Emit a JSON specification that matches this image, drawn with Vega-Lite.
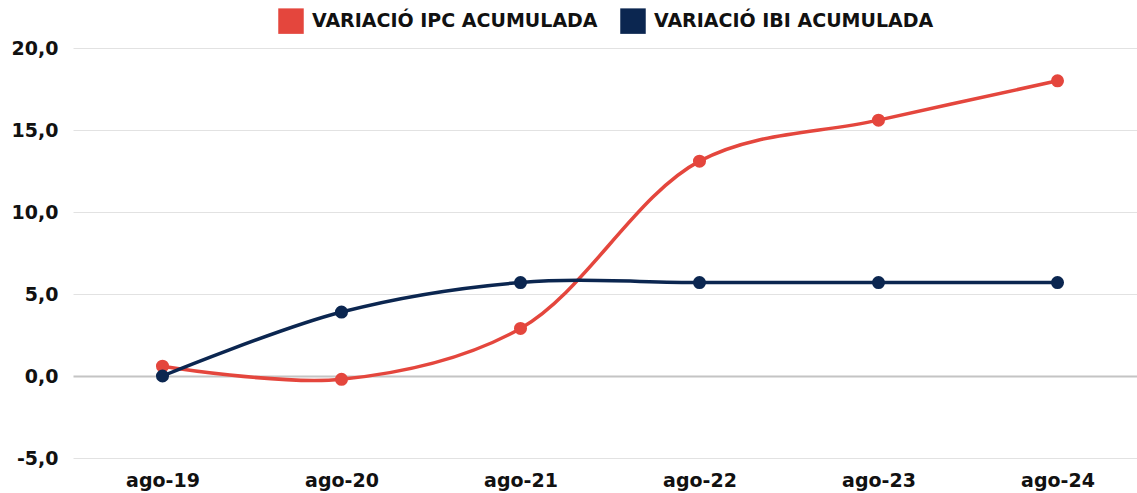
{
  "$schema": "https://vega.github.io/schema/vega-lite/v6.json",
  "width": 1074,
  "height": 410,
  "padding": {"left": 11, "top": 8, "right": 0, "bottom": 5},
  "background": "white",
  "config": {
    "view": {"stroke": null},
    "font": "DejaVu Sans"
  },
  "data": {
    "values": [
      {"fecha": "ago-19", "serie": "VARIACIÓ IPC ACUMULADA", "valor": 0.6},
      {"fecha": "ago-20", "serie": "VARIACIÓ IPC ACUMULADA", "valor": -0.2},
      {"fecha": "ago-21", "serie": "VARIACIÓ IPC ACUMULADA", "valor": 2.9},
      {"fecha": "ago-22", "serie": "VARIACIÓ IPC ACUMULADA", "valor": 13.1},
      {"fecha": "ago-23", "serie": "VARIACIÓ IPC ACUMULADA", "valor": 15.6},
      {"fecha": "ago-24", "serie": "VARIACIÓ IPC ACUMULADA", "valor": 18.0},
      {"fecha": "ago-19", "serie": "VARIACIÓ IBI ACUMULADA", "valor": 0.0},
      {"fecha": "ago-20", "serie": "VARIACIÓ IBI ACUMULADA", "valor": 3.9},
      {"fecha": "ago-21", "serie": "VARIACIÓ IBI ACUMULADA", "valor": 5.7},
      {"fecha": "ago-22", "serie": "VARIACIÓ IBI ACUMULADA", "valor": 5.7},
      {"fecha": "ago-23", "serie": "VARIACIÓ IBI ACUMULADA", "valor": 5.7},
      {"fecha": "ago-24", "serie": "VARIACIÓ IBI ACUMULADA", "valor": 5.7}
    ]
  },
  "encoding": {
    "x": {
      "field": "fecha",
      "type": "ordinal",
      "sort": null,
      "scale": {"type": "point", "padding": 0.5},
      "axis": {
        "title": null,
        "labelAngle": 0,
        "domain": false,
        "ticks": false,
        "labelFont": "DejaVu Sans",
        "labelFontWeight": "bold",
        "labelFontSize": 19,
        "labelColor": "#111111",
        "labelPadding": 13
      }
    },
    "y": {
      "field": "valor",
      "type": "quantitative",
      "scale": {"domain": [-5, 20], "nice": false, "zero": false},
      "axis": {
        "title": null,
        "values": [-5, 0, 5, 10, 15, 20],
        "labelExpr": "replace(replace(format(datum.value, '.1f'), '.', ','), '\u2212', '-')",
        "domain": false,
        "ticks": false,
        "labelFont": "DejaVu Sans",
        "labelFontWeight": "bold",
        "labelFontSize": 19,
        "labelColor": "#111111",
        "labelPadding": 15,
        "gridColor": {"condition": {"test": "datum.value === 0", "value": "#c4c4c4"}, "value": "#e2e2e2"},
        "gridWidth": {"condition": {"test": "datum.value === 0", "value": 2}, "value": 1}
      }
    },
    "color": {
      "field": "serie",
      "type": "nominal",
      "scale": {
        "domain": ["VARIACIÓ IPC ACUMULADA", "VARIACIÓ IBI ACUMULADA"],
        "range": ["#E4463D", "#0B2650"]
      },
      "legend": {
        "title": null,
        "orient": "none",
        "direction": "horizontal",
        "legendX": 205,
        "legendY": -40,
        "symbolType": "square",
        "symbolSize": 650,
        "symbolStrokeWidth": 0,
        "symbolOpacity": 1,
        "labelFont": "DejaVu Sans",
        "labelFontWeight": "bold",
        "labelFontSize": 19,
        "labelColor": "#111111",
        "labelOffset": 8,
        "columnPadding": 22,
        "labelLimit": 400
      }
    }
  },
  "layer": [
    {
      "mark": {"type": "line", "interpolate": "catmull-rom", "strokeWidth": 3.5}
    },
    {
      "mark": {"type": "point", "filled": true, "size": 170, "opacity": 1}
    }
  ]
}
